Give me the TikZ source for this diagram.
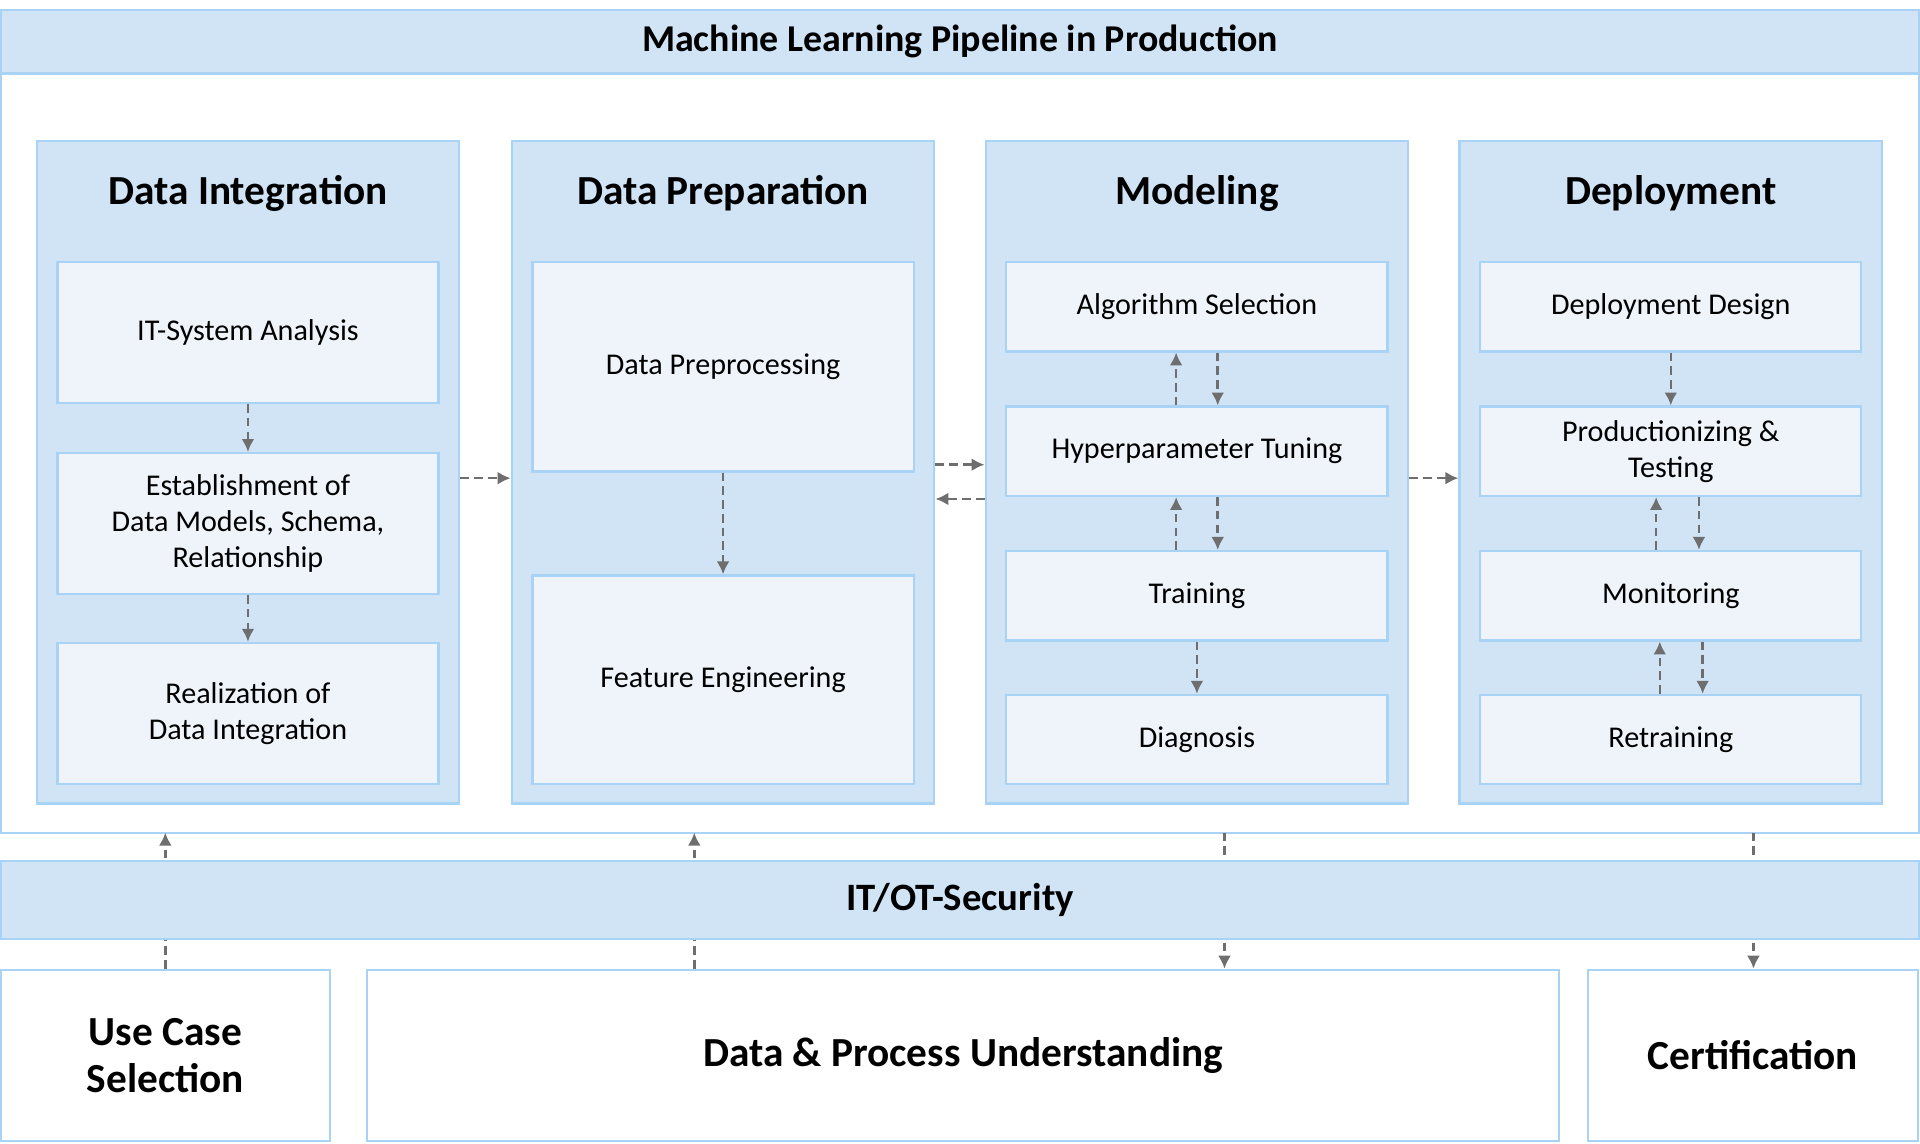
\documentclass[tikz,border=0pt]{standalone}
\usepackage{fontspec}
\setmainfont{Carlito}
\usetikzlibrary{calc,arrows.meta}
\definecolor{bandblue}{HTML}{D0E4F5}
\definecolor{lineblue}{HTML}{A9D3F5}
\definecolor{boxblue}{HTML}{EFF4FB}
\definecolor{arrowgray}{HTML}{6E6E6E}
\tikzset{
	band/.style={draw=lineblue, line width=0.5pt, fill=bandblue, inner sep=0pt},
	column/.style={draw=lineblue, line width=0.5pt, fill=bandblue, minimum width=3.45cm, minimum height=5.41cm, inner sep=0pt},
	task/.style={draw=lineblue, line width=0.5pt, fill=boxblue, minimum width=3.11cm, align=center, inner sep=0pt, font=\fontsize{7}{8.4}\selectfont},
	plain/.style={draw=lineblue, line width=0.5pt, fill=white, minimum height=1.4cm, align=center, inner sep=0pt, font=\fontsize{9.6}{11}\selectfont\bfseries},
	head/.style={font=\fontsize{9.6}{11}\selectfont\bfseries},
	flow/.style={draw=arrowgray, line width=0.6pt, dashed, dash pattern=on 2pt off 1.2pt, -{Latex[length=3pt,width=3pt]}}
}
\begin{document}
\begin{tikzpicture}[x=0.01cm, y=-0.01cm]
	\useasboundingbox (0,0) rectangle (1568,933.5);
	% outer frame and title
	\draw [lineblue, line width=0.5pt, fill=white] (1,8) rectangle (1567,680);
	\node [band, minimum width=15.66cm, minimum height=0.52cm, font=\fontsize{8.8}{10}\selectfont\bfseries] (title) at (784,34) {Machine Learning Pipeline in Production};
	% columns
	\node [column] (colA) at (202.5,385.5) {};
	\node [column] (colB) at (590.5,385.5) {};
	\node [column] (colC) at (977.5,385.5) {};
	\node [column] (colD) at (1364.5,385.5) {};
	\node [head] at (202.5,158) {Data Integration};
	\node [head] at (590.5,158) {Data Preparation};
	\node [head] at (977.5,158) {Modeling};
	\node [head] at (1364.5,158) {Deployment};
	% data integration
	\node [task, minimum height=1.15cm] (itsys) at (202.5,271.5) {IT-System Analysis};
	\node [task, minimum height=1.15cm] (models) at (202.5,427.5) {Establishment of\\Data Models, Schema,\\Relationship};
	\node [task, minimum height=1.15cm] (realize) at (202.5,582.5) {Realization of\\Data Integration};
	% data preparation
	\node [task, minimum height=1.71cm] (prep) at (590.5,299.5) {Data Preprocessing};
	\node [task, minimum height=1.70cm] (feat) at (590.5,555) {Feature Engineering};
	% modeling
	\node [task, minimum height=0.73cm] (algo) at (977.5,250.5) {Algorithm Selection};
	\node [task, minimum height=0.73cm] (hyper) at (977.5,368.5) {Hyperparameter Tuning};
	\node [task, minimum height=0.73cm] (train) at (977.5,486.5) {Training};
	\node [task, minimum height=0.73cm] (diag) at (977.5,604) {Diagnosis};
	% deployment
	\node [task, minimum height=0.73cm] (design) at (1364.5,250.5) {Deployment Design};
	\node [task, minimum height=0.73cm] (product) at (1364.5,368.5) {Productionizing \&\\Testing};
	\node [task, minimum height=0.73cm] (monitor) at (1364.5,486.5) {Monitoring};
	\node [task, minimum height=0.73cm] (retrain) at (1364.5,604) {Retraining};
	% security and bottom row
	\coordinate (frameA) at (135,680);
	\coordinate (frameB) at (567,680);
	\coordinate (frameC) at (1000,680);
	\coordinate (frameD) at (1432,680);
	\node [plain, minimum width=2.69cm] (usecase) at (135,862) {Use Case\\Selection};
	\node [plain, minimum width=9.73cm] (understand) at (786.5,862) {Data \& Process Understanding};
	\node [plain, minimum width=2.69cm] (cert) at (1431.5,862) {Certification};
	\draw [flow] (usecase.north -| frameA) -- (frameA);
	\draw [flow] (understand.north -| frameB) -- (frameB);
	\draw [flow] (frameC) -- (understand.north -| frameC);
	\draw [flow] (frameD) -- (cert.north -| frameD);
	\node [band, minimum width=15.66cm, minimum height=0.64cm, font=\fontsize{9}{10}\selectfont\bfseries] (security) at (784,735) {IT/OT-Security};
	% arrows inside columns
	\draw [flow] (itsys) -- (models);
	\draw [flow] (models) -- (realize);
	\draw [flow] (prep) -- (feat);
	\draw [flow] ($(hyper.north)+(-17,0)$) -- ($(algo.south)+(-17,0)$);
	\draw [flow] ($(algo.south)+(17,0)$) -- ($(hyper.north)+(17,0)$);
	\draw [flow] ($(train.north)+(-17,0)$) -- ($(hyper.south)+(-17,0)$);
	\draw [flow] ($(hyper.south)+(17,0)$) -- ($(train.north)+(17,0)$);
	\draw [flow] (train) -- (diag);
	\draw [flow] (design) -- (product);
	\draw [flow] ($(monitor.north)+(-12,0)$) -- ($(product.south)+(-12,0)$);
	\draw [flow] ($(product.south)+(23,0)$) -- ($(monitor.north)+(23,0)$);
	\draw [flow] ($(retrain.north)+(-9,0)$) -- ($(monitor.south)+(-9,0)$);
	\draw [flow] ($(monitor.south)+(26,0)$) -- ($(retrain.north)+(26,0)$);
	% arrows between columns
	\draw [flow] ($(colA.east)+(0,5)$) -- ($(colB.west)+(0,5)$);
	\draw [flow] ($(colB.east)+(0,-6)$) -- ($(colC.west)+(0,-6)$);
	\draw [flow] ($(colC.west)+(0,22)$) -- ($(colB.east)+(0,22)$);
	\draw [flow] ($(colC.east)+(0,5)$) -- ($(colD.west)+(0,5)$);
\end{tikzpicture}
\end{document}
